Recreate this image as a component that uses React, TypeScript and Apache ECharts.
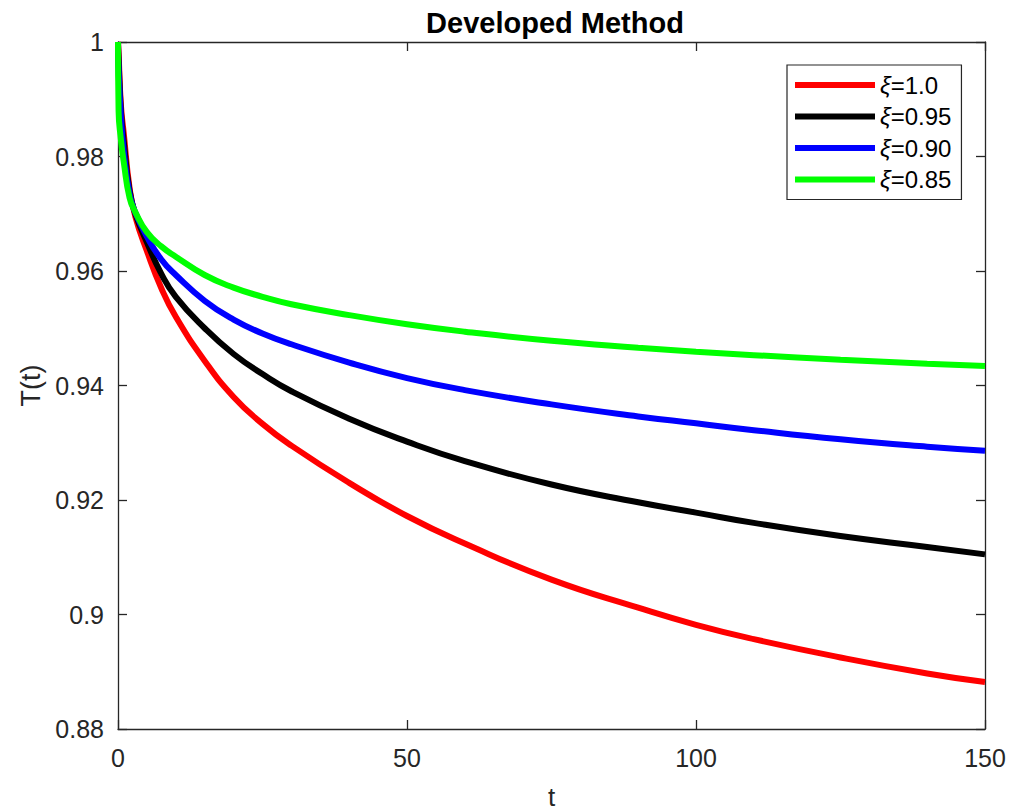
import React, { useEffect, useRef } from "react";
import * as echarts from "echarts";

const tValues = [0, 0.1, 0.5, 1, 2, 3, 5, 7.5, 10, 15, 20, 25, 30, 40, 50, 60, 75, 90, 100, 110, 125, 140, 150];
const xi100 = [1, 0.998, 0.989, 0.984, 0.9745, 0.9695, 0.9635, 0.957, 0.952, 0.9443, 0.938, 0.9333, 0.9295, 0.923, 0.9172, 0.9124, 0.9061, 0.9012, 0.8982, 0.8957, 0.8925, 0.8897, 0.8882];
const xi095 = [1, 0.997, 0.988, 0.9825, 0.974, 0.97, 0.965, 0.9595, 0.9555, 0.95, 0.9455, 0.942, 0.939, 0.9342, 0.9302, 0.9268, 0.9227, 0.9196, 0.9178, 0.916, 0.9137, 0.9118, 0.9105];
const xi090 = [1, 0.995, 0.987, 0.981, 0.9735, 0.9702, 0.966, 0.962, 0.9593, 0.9548, 0.9515, 0.9491, 0.9472, 0.944, 0.9413, 0.9392, 0.9367, 0.9346, 0.9334, 0.9322, 0.9306, 0.9293, 0.9286];
const xi085 = [1, 0.988, 0.983, 0.979, 0.9728, 0.9703, 0.9668, 0.9643, 0.9625, 0.9593, 0.9571, 0.9555, 0.9542, 0.9523, 0.9507, 0.9494, 0.9478, 0.9466, 0.9459, 0.9453, 0.9445, 0.9438, 0.9434];

const seriesNames = ["ξ=1.0", "ξ=0.95", "ξ=0.90", "ξ=0.85"];
const seriesColors = ["#ff0000", "#000000", "#0000ff", "#00ff00"];
const seriesValues = [xi100, xi095, xi090, xi085];

const xTicks = { min: 0, max: 150, interval: 50 };
const yTicks = { min: 0.88, max: 1, interval: 0.02 };

const FONT = "Liberation Sans";
const AX = "#262626";

export default function App() {
  const ref = useRef<HTMLDivElement>(null);
  useEffect(() => {
    document.body.style.margin = "0";
    const chart = echarts.init(ref.current!, null, { renderer: "svg" });
    const baseAxis = {
      axisLine: { show: true, onZero: false, lineStyle: { color: AX, width: 1.3 } },
      axisTick: { show: true, inside: true, length: 9, lineStyle: { color: AX, width: 1.3 } },
      splitLine: { show: false },
    };
    chart.setOption({
      animation: false,
      backgroundColor: "#ffffff",
      title: {
        text: "Developed Method",
        left: 550,
        top: 3,
        textAlign: "center",
        textStyle: { fontFamily: FONT, fontWeight: "bold", fontSize: 29, color: "#000" },
      },
      grid: { left: 118, right: 39, top: 42, bottom: 83, containLabel: false, outerBoundsMode: "none" },
      legend: {
        orient: "vertical",
        left: 787,
        top: 65,
        padding: [8, 10, 8, 8],
        itemGap: 7.5,
        itemWidth: 80,
        itemHeight: 6,
        icon: "rect",
        borderColor: AX,
        borderWidth: 1.2,
        backgroundColor: "#fff",
        data: seriesNames,
        formatter: (name: string) => "{i|ξ}{n|" + name.slice(1) + "}",
        textStyle: {
          fontFamily: FONT,
          fontSize: 24,
          color: "#000",
          rich: {
            i: { fontFamily: FONT, fontSize: 24, fontStyle: "italic", color: "#000" },
            n: { fontFamily: FONT, fontSize: 24, color: "#000" },
          },
        },
      },
      xAxis: [
        {
          type: "value",
          ...xTicks,
          ...baseAxis,
          position: "bottom",
          name: "t",
          nameLocation: "middle",
          nameGap: 55,
          nameTextStyle: { fontFamily: FONT, fontSize: 26, color: AX },
          axisLabel: { fontFamily: FONT, fontSize: 25, color: AX, margin: 16 },
        },
        {
          type: "value",
          ...xTicks,
          ...baseAxis,
          position: "top",
          axisLabel: { show: false },
        },
      ],
      yAxis: [
        {
          type: "value",
          ...yTicks,
          ...baseAxis,
          position: "left",
          name: "T(t)",
          nameLocation: "middle",
          nameRotate: 90,
          nameGap: 70,
          nameTextStyle: { fontFamily: FONT, fontSize: 27, color: AX },
          axisLabel: {
            fontFamily: FONT,
            fontSize: 25,
            color: AX,
            margin: 14,
            formatter: (v: number) => String(parseFloat(v.toFixed(2))),
          },
        },
        {
          type: "value",
          ...yTicks,
          ...baseAxis,
          position: "right",
          axisLabel: { show: false },
        },
      ],
      series: seriesNames.map((name, i) => ({
        name,
        type: "line",
        xAxisIndex: 0,
        yAxisIndex: 0,
        data: tValues.map((t, j) => [t, seriesValues[i][j]]),
        smooth: 0.5,
        showSymbol: false,
        symbol: "none",
        clip: false,
        color: seriesColors[i],
        lineStyle: { color: seriesColors[i], width: 6 },
        z: 2 + i,
      })),
    });
    return () => chart.dispose();
  }, []);
  return <div ref={ref} style={{ width: 1024, height: 812 }} />;
}
